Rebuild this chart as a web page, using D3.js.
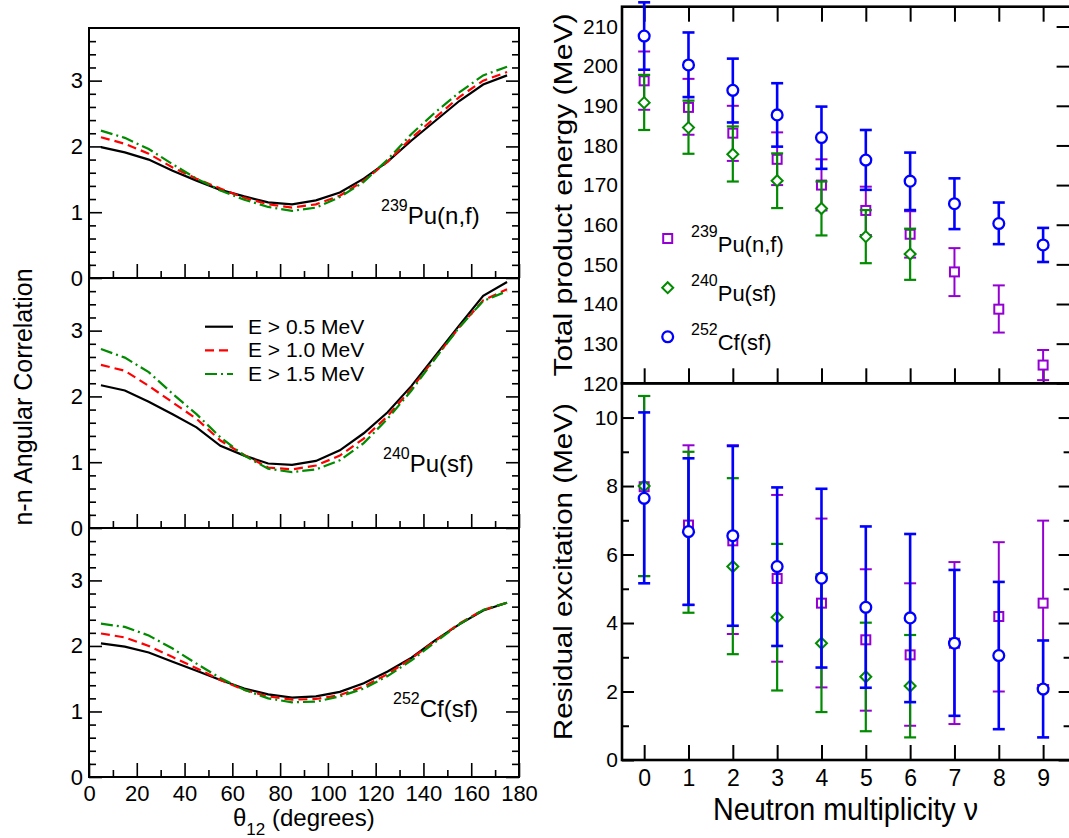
<!DOCTYPE html>
<html>
<head>
<meta charset="utf-8">
<script src="https://cdn.jsdelivr.net/npm/d3@7/dist/d3.min.js"></script>
<style>
  body { margin: 0; background: #fff; }
  text { font-family: "Liberation Sans", Arial, Helvetica, sans-serif; fill: #000; }
</style>
</head>
<body>
<script>
// ---- left: n-n angular correlation ----
var theta = [5, 15, 25, 35, 45, 55, 65, 75, 85, 95, 105, 115, 125, 135, 145, 155, 165, 175];
var cutLabels = ["E > 0.5 MeV", "E > 1.0 MeV", "E > 1.5 MeV"];

var pu239E05 = [1.99, 1.91, 1.80, 1.63, 1.48, 1.34, 1.24, 1.15, 1.12, 1.18, 1.30, 1.51, 1.77, 2.09, 2.39, 2.69, 2.94, 3.08];
var pu239E10 = [2.14, 2.04, 1.89, 1.68, 1.51, 1.36, 1.22, 1.12, 1.07, 1.12, 1.25, 1.48, 1.77, 2.13, 2.44, 2.75, 3.00, 3.13];
var pu239E15 = [2.24, 2.13, 1.96, 1.73, 1.51, 1.33, 1.19, 1.08, 1.02, 1.07, 1.23, 1.46, 1.80, 2.19, 2.52, 2.82, 3.08, 3.21];

var pu240E05 = [2.17, 2.09, 1.92, 1.73, 1.53, 1.25, 1.10, 0.98, 0.96, 1.02, 1.18, 1.44, 1.76, 2.16, 2.62, 3.08, 3.53, 3.74];
var pu240E10 = [2.48, 2.39, 2.16, 1.91, 1.66, 1.33, 1.11, 0.92, 0.89, 0.95, 1.10, 1.36, 1.70, 2.12, 2.59, 3.05, 3.46, 3.63];
var pu240E15 = [2.72, 2.59, 2.37, 2.04, 1.73, 1.38, 1.10, 0.90, 0.85, 0.89, 1.03, 1.29, 1.66, 2.09, 2.58, 3.05, 3.45, 3.60];

var cf252E05 = [2.04, 1.99, 1.90, 1.76, 1.62, 1.48, 1.35, 1.26, 1.21, 1.23, 1.30, 1.43, 1.61, 1.82, 2.09, 2.33, 2.54, 2.66];
var cf252E10 = [2.19, 2.13, 2.00, 1.83, 1.66, 1.48, 1.33, 1.23, 1.18, 1.19, 1.25, 1.38, 1.57, 1.81, 2.08, 2.34, 2.55, 2.66];
var cf252E15 = [2.34, 2.29, 2.16, 1.96, 1.73, 1.51, 1.33, 1.20, 1.14, 1.15, 1.23, 1.35, 1.54, 1.78, 2.06, 2.33, 2.55, 2.66];

var thetaMajor = [0, 20, 40, 60, 80, 100, 120, 140, 160, 180];
var thetaMinor = [10, 30, 50, 70, 90, 110, 130, 150, 170];
var corrMajor = [0, 1, 2, 3];
var corrMinor = [0.2, 0.4, 0.6, 0.8, 1.2, 1.4, 1.6, 1.8, 2.2, 2.4, 2.6, 2.8, 3.2, 3.4, 3.6];

// ---- right: vs neutron multiplicity ----
var nu = [0, 1, 2, 3, 4, 5, 6, 7, 8, 9];
var nuPu240 = [0, 1, 2, 3, 4, 5, 6];

var tpePu239 = [196.3, 189.6, 183.1, 176.5, 170.0, 163.6, 157.6, 148.1, 138.7, 124.6];
var tpePu239Lo = [189.0, 182.7, 176.1, 170.0, 163.6, 157.4, 151.7, 142.0, 132.8, 120.8];
var tpePu239Hi = [203.7, 196.8, 190.0, 183.3, 176.5, 169.6, 163.4, 154.1, 144.7, 128.4];
var tpePu240 = [190.8, 184.5, 177.8, 171.1, 164.1, 157.0, 152.6];
var tpePu240Lo = [183.9, 177.9, 170.9, 164.2, 157.3, 150.3, 146.1];
var tpePu240Hi = [197.8, 191.3, 184.8, 178.0, 170.9, 163.7, 159.0];
var tpeCf252 = [207.6, 200.3, 193.9, 187.7, 182.0, 176.3, 171.0, 165.3, 160.3, 154.9];
var tpeCf252Lo = [199.1, 192.2, 185.8, 179.7, 174.1, 168.8, 163.7, 158.9, 155.1, 150.6];
var tpeCf252Hi = [216.1, 208.5, 201.9, 195.7, 189.8, 183.9, 178.2, 171.7, 165.6, 159.2];

var exPu239 = [7.98, 6.86, 6.40, 5.30, 4.58, 3.51, 3.07, 3.41, 4.19, 4.58];
var exPu239Lo = [5.37, 4.53, 3.68, 2.87, 2.12, 1.44, 1.00, 1.05, 2.00, 2.19];
var exPu239Hi = [10.63, 9.19, 9.19, 7.74, 7.05, 5.57, 5.16, 5.78, 6.36, 6.99];
var exPu240 = [8.00, 6.65, 5.65, 4.17, 3.41, 2.43, 2.16];
var exPu240Lo = [5.37, 4.30, 3.09, 2.03, 1.40, 0.84, 0.66];
var exPu240Hi = [10.63, 9.00, 8.23, 6.31, 5.42, 4.01, 3.65];
var exCf252 = [7.64, 6.67, 6.55, 5.65, 5.31, 4.46, 4.15, 3.41, 3.05, 2.07];
var exCf252Lo = [5.16, 4.53, 3.92, 3.33, 2.70, 2.11, 1.69, 1.29, 0.90, 0.66];
var exCf252Hi = [10.15, 8.81, 9.17, 7.96, 7.92, 6.82, 6.60, 5.55, 5.20, 3.49];

var tpeTicks = [120, 130, 140, 150, 160, 170, 180, 190, 200, 210];
var exMajor = [0, 2, 4, 6, 8, 10];
var exMinor = [1, 3, 5, 7, 9];

var width = 1069, height = 838;
var black = "#000", red = "#ff0000", green = "#008b00", blue = "#0000ff", violet = "#9400d3";

var svg = d3.select("body").append("svg")
    .attr("width", width)
    .attr("height", height);

function noDomain(g) { g.select(".domain").remove(); }

// ================= left column =================
var lx = d3.scaleLinear().domain([0, 180]).range([89, 519]);
var leftPanels = [
  { top: 28, bot: 278, name: "239", rest: "Pu(n,f)", lx: 381, ly: 224, series: [pu239E05, pu239E10, pu239E15] },
  { top: 278, bot: 528, name: "240", rest: "Pu(sf)", lx: 383, ly: 472, series: [pu240E05, pu240E10, pu240E15] },
  { top: 528, bot: 777, name: "252", rest: "Cf(sf)", lx: 393, ly: 717, series: [cf252E05, cf252E10, cf252E15] }
];
var styles = [
  { color: black, dash: null },
  { color: red, dash: "9,5" },
  { color: green, dash: "12,4,2,4" }
];

leftPanels.forEach(function(p, pi) {
  var y = d3.scaleLinear().domain([0, 3.8]).range([p.bot, p.top]);
  var g = svg.append("g");
  var last = pi == leftPanels.length - 1;

  g.append("g").attr("transform", "translate(0," + p.bot + ")")
    .call(d3.axisBottom(lx).tickValues(thetaMajor).tickSize(-14).tickPadding(8)
      .tickFormat(last ? d3.format("d") : ""))
    .call(noDomain);
  g.append("g").attr("transform", "translate(0," + p.bot + ")")
    .call(d3.axisBottom(lx).tickValues(thetaMinor).tickSize(-7).tickFormat(""))
    .call(noDomain);

  g.append("g").attr("transform", "translate(" + lx(0) + ",0)")
    .call(d3.axisLeft(y).tickValues(corrMajor).tickSize(-13).tickPadding(6).tickFormat(d3.format("d")))
    .call(noDomain);
  g.append("g").attr("transform", "translate(" + lx(0) + ",0)")
    .call(d3.axisLeft(y).tickValues(corrMinor).tickSize(-7).tickFormat(""))
    .call(noDomain);
  g.append("g").attr("transform", "translate(" + lx(180) + ",0)")
    .call(d3.axisRight(y).tickValues(corrMajor).tickSize(-13).tickFormat(""))
    .call(noDomain);
  g.append("g").attr("transform", "translate(" + lx(180) + ",0)")
    .call(d3.axisRight(y).tickValues(corrMinor).tickSize(-7).tickFormat(""))
    .call(noDomain);

  g.selectAll(".tick line").attr("stroke", "#000").attr("stroke-width", 1.6);
  g.selectAll(".tick text").attr("font-size", 22).attr("font-family", null);

  g.append("rect")
    .attr("x", lx(0)).attr("y", p.top)
    .attr("width", lx(180) - lx(0)).attr("height", p.bot - p.top)
    .attr("fill", "none").attr("stroke", "#000").attr("stroke-width", 2);

  var line = d3.line().x(function(d, i) { return lx(theta[i]); }).y(function(d) { return y(d); });
  p.series.forEach(function(s, si) {
    g.append("path").datum(s)
      .attr("d", line)
      .attr("fill", "none")
      .attr("stroke", styles[si].color)
      .attr("stroke-width", 2.2)
      .attr("stroke-dasharray", styles[si].dash);
  });

  var t = g.append("text").attr("x", p.lx).attr("y", p.ly);
  t.append("tspan").attr("font-size", 16).attr("dy", -13).text(p.name);
  t.append("tspan").attr("font-size", 24).attr("dy", 13).text(p.rest);
});

// legend in the middle panel
var legY = [326.7, 350.3, 374];
cutLabels.forEach(function(lab, i) {
  svg.append("line")
    .attr("x1", 205).attr("x2", 233).attr("y1", legY[i]).attr("y2", legY[i])
    .attr("stroke", styles[i].color).attr("stroke-width", 2.2)
    .attr("stroke-dasharray", styles[i].dash);
  svg.append("text").attr("x", 248).attr("y", legY[i] + 7)
    .attr("font-size", 21).text(lab);
});

// left axis titles
svg.append("text")
  .attr("transform", "translate(32,397) rotate(-90)")
  .attr("text-anchor", "middle")
  .attr("font-size", 25)
  .text("n-n Angular Correlation");

var xt = svg.append("text").attr("x", 233).attr("y", 826).attr("font-size", 24);
xt.append("tspan").text("\u03b8");
xt.append("tspan").attr("font-size", 17).attr("dy", 9).text("12");
xt.append("tspan").attr("dy", -9).text(" (degrees)");

// ================= right column =================
// right frame edge lies just past the window edge
var rx = d3.scaleLinear().domain([-0.5, 9.62]).range([622, 1070.6]);
var xR = 9.62;
var ryTop = d3.scaleLinear().domain([120, 215]).range([383.3, 6.7]);
var ryBot = d3.scaleLinear().domain([0, 11]).range([760, 383.3]);

var gt = svg.append("g");
gt.append("g").attr("transform", "translate(0," + ryTop(215) + ")")
  .call(d3.axisTop(rx).tickValues(nu).tickSize(-15).tickFormat("")).call(noDomain);
gt.append("g").attr("transform", "translate(0," + ryTop(120) + ")")
  .call(d3.axisBottom(rx).tickValues(nu).tickSize(-15).tickFormat("")).call(noDomain);
gt.append("g").attr("transform", "translate(" + rx(-0.5) + ",0)")
  .call(d3.axisLeft(ryTop).tickValues(tpeTicks).tickSize(0).tickPadding(4)).call(noDomain);
gt.append("g").attr("transform", "translate(" + rx(xR) + ",0)")
  .call(d3.axisRight(ryTop).tickValues(tpeTicks).tickSize(-14).tickFormat("")).call(noDomain);

var gb = svg.append("g");
gb.append("g").attr("transform", "translate(0," + ryBot(0) + ")")
  .call(d3.axisBottom(rx).tickValues(nu).tickSize(-15).tickPadding(10)).call(noDomain);
gb.append("g").attr("transform", "translate(" + rx(-0.5) + ",0)")
  .call(d3.axisLeft(ryBot).tickValues(exMajor).tickSize(-12).tickPadding(4)).call(noDomain);
gb.append("g").attr("transform", "translate(" + rx(-0.5) + ",0)")
  .call(d3.axisLeft(ryBot).tickValues(exMinor).tickSize(-7).tickFormat("")).call(noDomain);
gb.append("g").attr("transform", "translate(" + rx(xR) + ",0)")
  .call(d3.axisRight(ryBot).tickValues(exMajor).tickSize(-12).tickFormat("")).call(noDomain);
gb.append("g").attr("transform", "translate(" + rx(xR) + ",0)")
  .call(d3.axisRight(ryBot).tickValues(exMinor).tickSize(-7).tickFormat("")).call(noDomain);

[gt, gb].forEach(function(g) {
  g.selectAll(".tick line").attr("stroke", "#000").attr("stroke-width", 2);
  g.selectAll(".tick text").attr("font-size", 21).attr("font-family", null);
});
gb.select("g").selectAll(".tick text").attr("font-size", 23);

svg.append("rect")
  .attr("x", rx(-0.5)).attr("y", ryTop(215))
  .attr("width", rx(xR) - rx(-0.5)).attr("height", ryTop(120) - ryTop(215))
  .attr("fill", "none").attr("stroke", "#000").attr("stroke-width", 2.6);
svg.append("rect")
  .attr("x", rx(-0.5)).attr("y", ryBot(11))
  .attr("width", rx(xR) - rx(-0.5)).attr("height", ryBot(0) - ryBot(11))
  .attr("fill", "none").attr("stroke", "#000").attr("stroke-width", 2.6);

function marker(g, kind, cx, cy, color) {
  if (kind == "square") {
    g.append("rect").attr("x", cx - 4.5).attr("y", cy - 4.5).attr("width", 9).attr("height", 9)
      .attr("fill", "#fff").attr("stroke", color).attr("stroke-width", 2);
  } else if (kind == "diamond") {
    g.append("path")
      .attr("d", "M" + cx + "," + (cy - 5.5) + "L" + (cx + 5.5) + "," + cy + "L" + cx + "," + (cy + 5.5) + "L" + (cx - 5.5) + "," + cy + "Z")
      .attr("fill", "#fff").attr("stroke", color).attr("stroke-width", 2);
  } else {
    g.append("circle").attr("cx", cx).attr("cy", cy).attr("r", 5.4)
      .attr("fill", "#fff").attr("stroke", color).attr("stroke-width", 2.3);
  }
}

function errSeries(y, xs, c, lo, hi, color, kind, lw) {
  var g = svg.append("g");
  xs.forEach(function(v, i) {
    var cx = rx(v);
    g.append("line").attr("x1", cx).attr("x2", cx).attr("y1", y(lo[i])).attr("y2", y(hi[i]))
      .attr("stroke", color).attr("stroke-width", lw);
    [lo[i], hi[i]].forEach(function(e) {
      g.append("line").attr("x1", cx - 6).attr("x2", cx + 6).attr("y1", y(e)).attr("y2", y(e))
        .attr("stroke", color).attr("stroke-width", lw);
    });
  });
  xs.forEach(function(v, i) { marker(g, kind, rx(v), y(c[i]), color); });
}

errSeries(ryTop, nu, tpePu239, tpePu239Lo, tpePu239Hi, violet, "square", 2);
errSeries(ryTop, nuPu240, tpePu240, tpePu240Lo, tpePu240Hi, green, "diamond", 2.2);
errSeries(ryTop, nu, tpeCf252, tpeCf252Lo, tpeCf252Hi, blue, "circle", 2.6);

errSeries(ryBot, nu, exPu239, exPu239Lo, exPu239Hi, violet, "square", 2);
errSeries(ryBot, nuPu240, exPu240, exPu240Lo, exPu240Hi, green, "diamond", 2.2);
errSeries(ryBot, nu, exCf252, exCf252Lo, exCf252Hi, blue, "circle", 2.6);

// legend, top right
var rLeg = [
  { kind: "square", color: violet, name: "239", rest: "Pu(n,f)", y: 238.5 },
  { kind: "diamond", color: green, name: "240", rest: "Pu(sf)", y: 287.7 },
  { kind: "circle", color: blue, name: "252", rest: "Cf(sf)", y: 336.8 }
];
rLeg.forEach(function(d) {
  marker(svg, d.kind, 667.7, d.y, d.color);
  var t = svg.append("text").attr("x", 691).attr("y", d.y + 13.5);
  t.append("tspan").attr("font-size", 16).attr("dy", -15).text(d.name);
  t.append("tspan").attr("font-size", 22).attr("dy", 15).text(d.rest);
});

// right axis titles
svg.append("text")
  .attr("transform", "translate(572,195) rotate(-90)")
  .attr("text-anchor", "middle")
  .attr("font-size", 26)
  .attr("textLength", 363).attr("lengthAdjust", "spacingAndGlyphs")
  .text("Total product energy (MeV)");
svg.append("text")
  .attr("transform", "translate(572,571.7) rotate(-90)")
  .attr("text-anchor", "middle")
  .attr("font-size", 26)
  .attr("textLength", 337).attr("lengthAdjust", "spacingAndGlyphs")
  .text("Residual excitation (MeV)");
svg.append("text")
  .attr("x", 713).attr("y", 820)
  .attr("font-size", 31)
  .attr("textLength", 265).attr("lengthAdjust", "spacingAndGlyphs")
  .text("Neutron multiplicity \u03bd");
</script>
</body>
</html>
